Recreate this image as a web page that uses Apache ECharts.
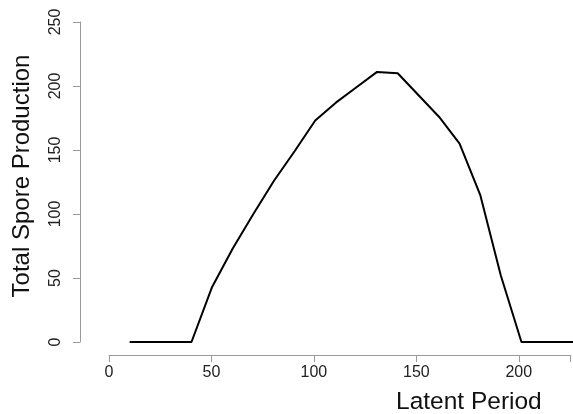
<!DOCTYPE html>
<html>
<head>
<meta charset="utf-8">
<script src="https://cdn.jsdelivr.net/npm/echarts@6/dist/echarts.min.js"></script>
<style>html,body{margin:0;padding:0;background:#fff;}#c{width:573px;height:414px;}</style>
</head>
<body>
<div id="c"></div>
<script>
const latentPeriod = [10, 20, 30, 40, 50, 60, 70, 80, 90, 100, 110, 120, 130, 140, 150, 160, 170, 180, 190, 200, 210, 220, 230];
const sporeProduction = [0, 0, 0, 0, 43, 73, 100, 126, 149, 173, 187, 199, 211, 210, 193, 176, 155, 115, 52, 0, 0, 0, 0];
const xTicks = [0, 50, 100, 150, 200];
const yTicks = [0, 50, 100, 150, 200, 250];

const chart = echarts.init(document.getElementById('c'), null, {renderer: 'canvas'});
const font = 'Liberation Sans, Arial, Helvetica, sans-serif';
const axisGray = '#9a9a9a';
const hiddenAxis = {show: false, splitLine: {show: false}};
chart.setOption({
  animation: false,
  backgroundColor: '#fff',
  grid: [
    {left: 109, right: -1, top: 22, bottom: 72},
    {left: 109, right: -1, top: 22, bottom: 59},
    {left: 80, right: -1, top: 22, bottom: 72}
  ],
  xAxis: [
    Object.assign({type: 'value', gridIndex: 0, min: 0, max: 225}, hiddenAxis),
    {
      type: 'value', gridIndex: 1, min: 0, max: 225, interval: 50,
      axisLine: {show: true, lineStyle: {color: axisGray, width: 1}},
      axisTick: {show: true, length: 7, lineStyle: {color: axisGray}},
      axisLabel: {margin: 10, color: '#222', fontSize: 16, fontFamily: font,
        formatter: v => xTicks.includes(v) ? String(v) : ''},
      splitLine: {show: false}
    },
    Object.assign({type: 'value', gridIndex: 2, min: 0, max: 225}, hiddenAxis)
  ],
  yAxis: [
    Object.assign({type: 'value', gridIndex: 0, min: 0, max: 250}, hiddenAxis),
    Object.assign({type: 'value', gridIndex: 1, min: 0, max: 250}, hiddenAxis),
    {
      type: 'value', gridIndex: 2, min: 0, max: 250, interval: 50,
      axisLine: {show: true, lineStyle: {color: axisGray, width: 1}},
      axisTick: {show: true, length: 7, lineStyle: {color: axisGray}},
      axisLabel: {margin: 16, rotate: 90, color: '#222', fontSize: 16, fontFamily: font,
        formatter: v => yTicks.includes(v) ? String(v) : ''},
      splitLine: {show: false}
    }
  ],
  graphic: [
    {type: 'text', x: 396, y: 402,
      style: {text: 'Latent Period', font: '24.5px ' + font, fill: '#111',
        textAlign: 'left', textVerticalAlign: 'middle'}},
    {type: 'text', x: 22, y: 176, rotation: Math.PI / 2,
      style: {text: 'Total Spore Production', font: '24px ' + font, fill: '#111',
        textAlign: 'center', textVerticalAlign: 'middle'}}
  ],
  series: [{
    type: 'line',
    xAxisIndex: 0, yAxisIndex: 0,
    data: latentPeriod.map((x, i) => [x, sporeProduction[i]]),
    showSymbol: false,
    clip: false,
    lineStyle: {color: '#000', width: 2},
    itemStyle: {color: '#000'}
  }]
});
</script>
</body>
</html>
